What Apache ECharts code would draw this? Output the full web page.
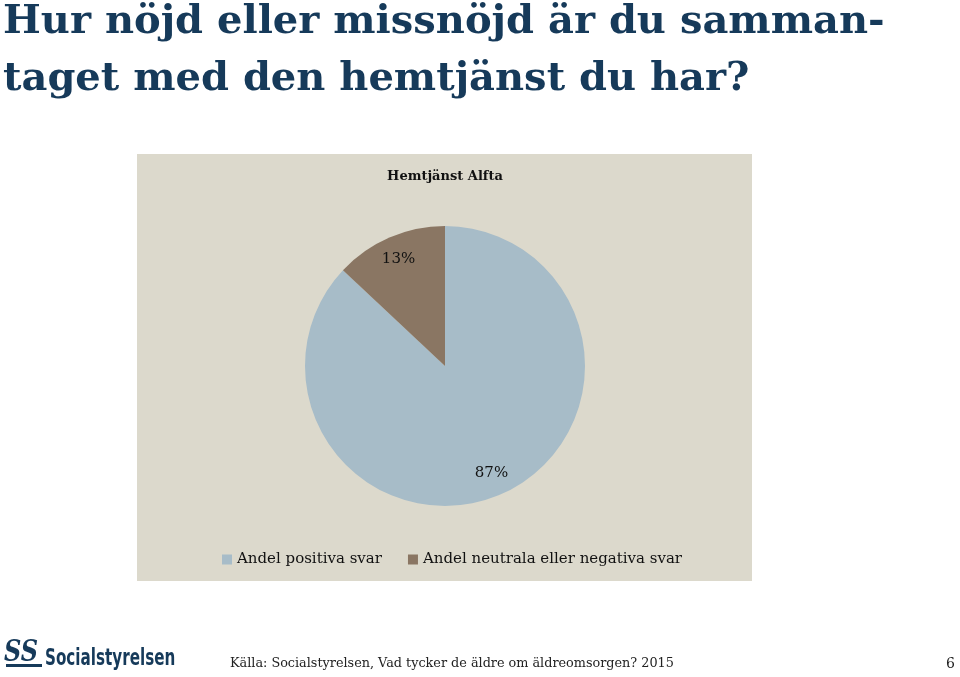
<!DOCTYPE html>
<html><head><meta charset="utf-8">
<script src="https://cdn.jsdelivr.net/npm/echarts@6/dist/echarts.min.js"></script>
<style>html,body{margin:0;padding:0;background:#fff}#c{width:960px;height:677px}</style>
</head><body><div id="c"></div>
<script>
const categories = ['Andel positiva svar', 'Andel neutrala eller negativa svar'];
const values = [87, 13];
const colors = ['#a7bcc8', '#8a7663'];
const chartTitle = 'Hemtjänst Alfta';
const titleLines = ['Hur nöjd eller missnöjd är du samman-', 'taget med den hemtjänst du har?'];
const source = 'Källa: Socialstyrelsen, Vad tycker de äldre om äldreomsorgen? 2015';
const pageNo = '6';

const chart = echarts.init(document.getElementById('c'));
const serif = '"DejaVu Serif", "Liberation Serif", serif';
const data = categories.map((n, i) => ({ name: n, value: values[i], itemStyle: { color: colors[i] } }));
chart.setOption({
  backgroundColor: '#ffffff',
  animation: false,
  graphic: [
    { type: 'rect', shape: { x: 137, y: 154, width: 615, height: 427 }, style: { fill: '#dcd9cc' }, z: -10 },
    { type: 'text', x: 3, y: 23, style: { text: titleLines[0], font: 'bold 40px ' + serif, fill: '#163a5a', textVerticalAlign: 'middle' } },
    { type: 'text', x: 3, y: 80, style: { text: titleLines[1], font: 'bold 40px ' + serif, fill: '#163a5a', textVerticalAlign: 'middle' } },
    { type: 'text', x: 445, y: 177, style: { text: chartTitle, font: 'bold 13px ' + serif, fill: '#111', textAlign: 'center', textVerticalAlign: 'middle' } },
    { type: 'text', x: 230, y: 664, style: { text: source, font: '12.8px ' + serif, fill: '#222', textVerticalAlign: 'middle' } },
    { type: 'text', x: 946, y: 664, style: { text: pageNo, font: '14px ' + serif, fill: '#222', textVerticalAlign: 'middle' } },
    { type: 'text', x: 4, y: 653, scaleX: 0.8, style: { text: 'SS', font: 'bold italic 30px ' + serif, fill: '#163a5a', textVerticalAlign: 'middle' } },
    { type: 'rect', shape: { x: 6, y: 664, width: 36, height: 3 }, style: { fill: '#163a5a' } },
    { type: 'text', x: 45, y: 659, scaleX: 0.66, style: { text: 'Socialstyrelsen', font: 'bold 23px "DejaVu Sans", sans-serif', fill: '#163a5a', textVerticalAlign: 'middle' } }
  ],
  legend: {
    data: categories, top: 547, left: 217, itemWidth: 10, itemHeight: 10, itemGap: 26,
    icon: 'rect',
    textStyle: { fontFamily: serif, fontSize: 15, color: '#111' }
  },
  series: [
    {
      type: 'pie', center: [445, 366], radius: [0, 140], startAngle: 90, clockwise: true,
      data: data, label: { show: false }, labelLine: { show: false }, silent: true
    },
    {
      type: 'pie', center: [445, 366], radius: [88, 140], startAngle: 90, clockwise: true,
      data: categories.map((n, i) => ({ name: n + ' ', value: values[i], itemStyle: { color: 'rgba(0,0,0,0)' } })),
      label: { show: true, position: 'inside', formatter: '{d}%', fontFamily: serif, fontSize: 15, color: '#111' },
      labelLine: { show: false }, silent: true, legendHoverLink: false
    }
  ]
});
</script></body></html>
